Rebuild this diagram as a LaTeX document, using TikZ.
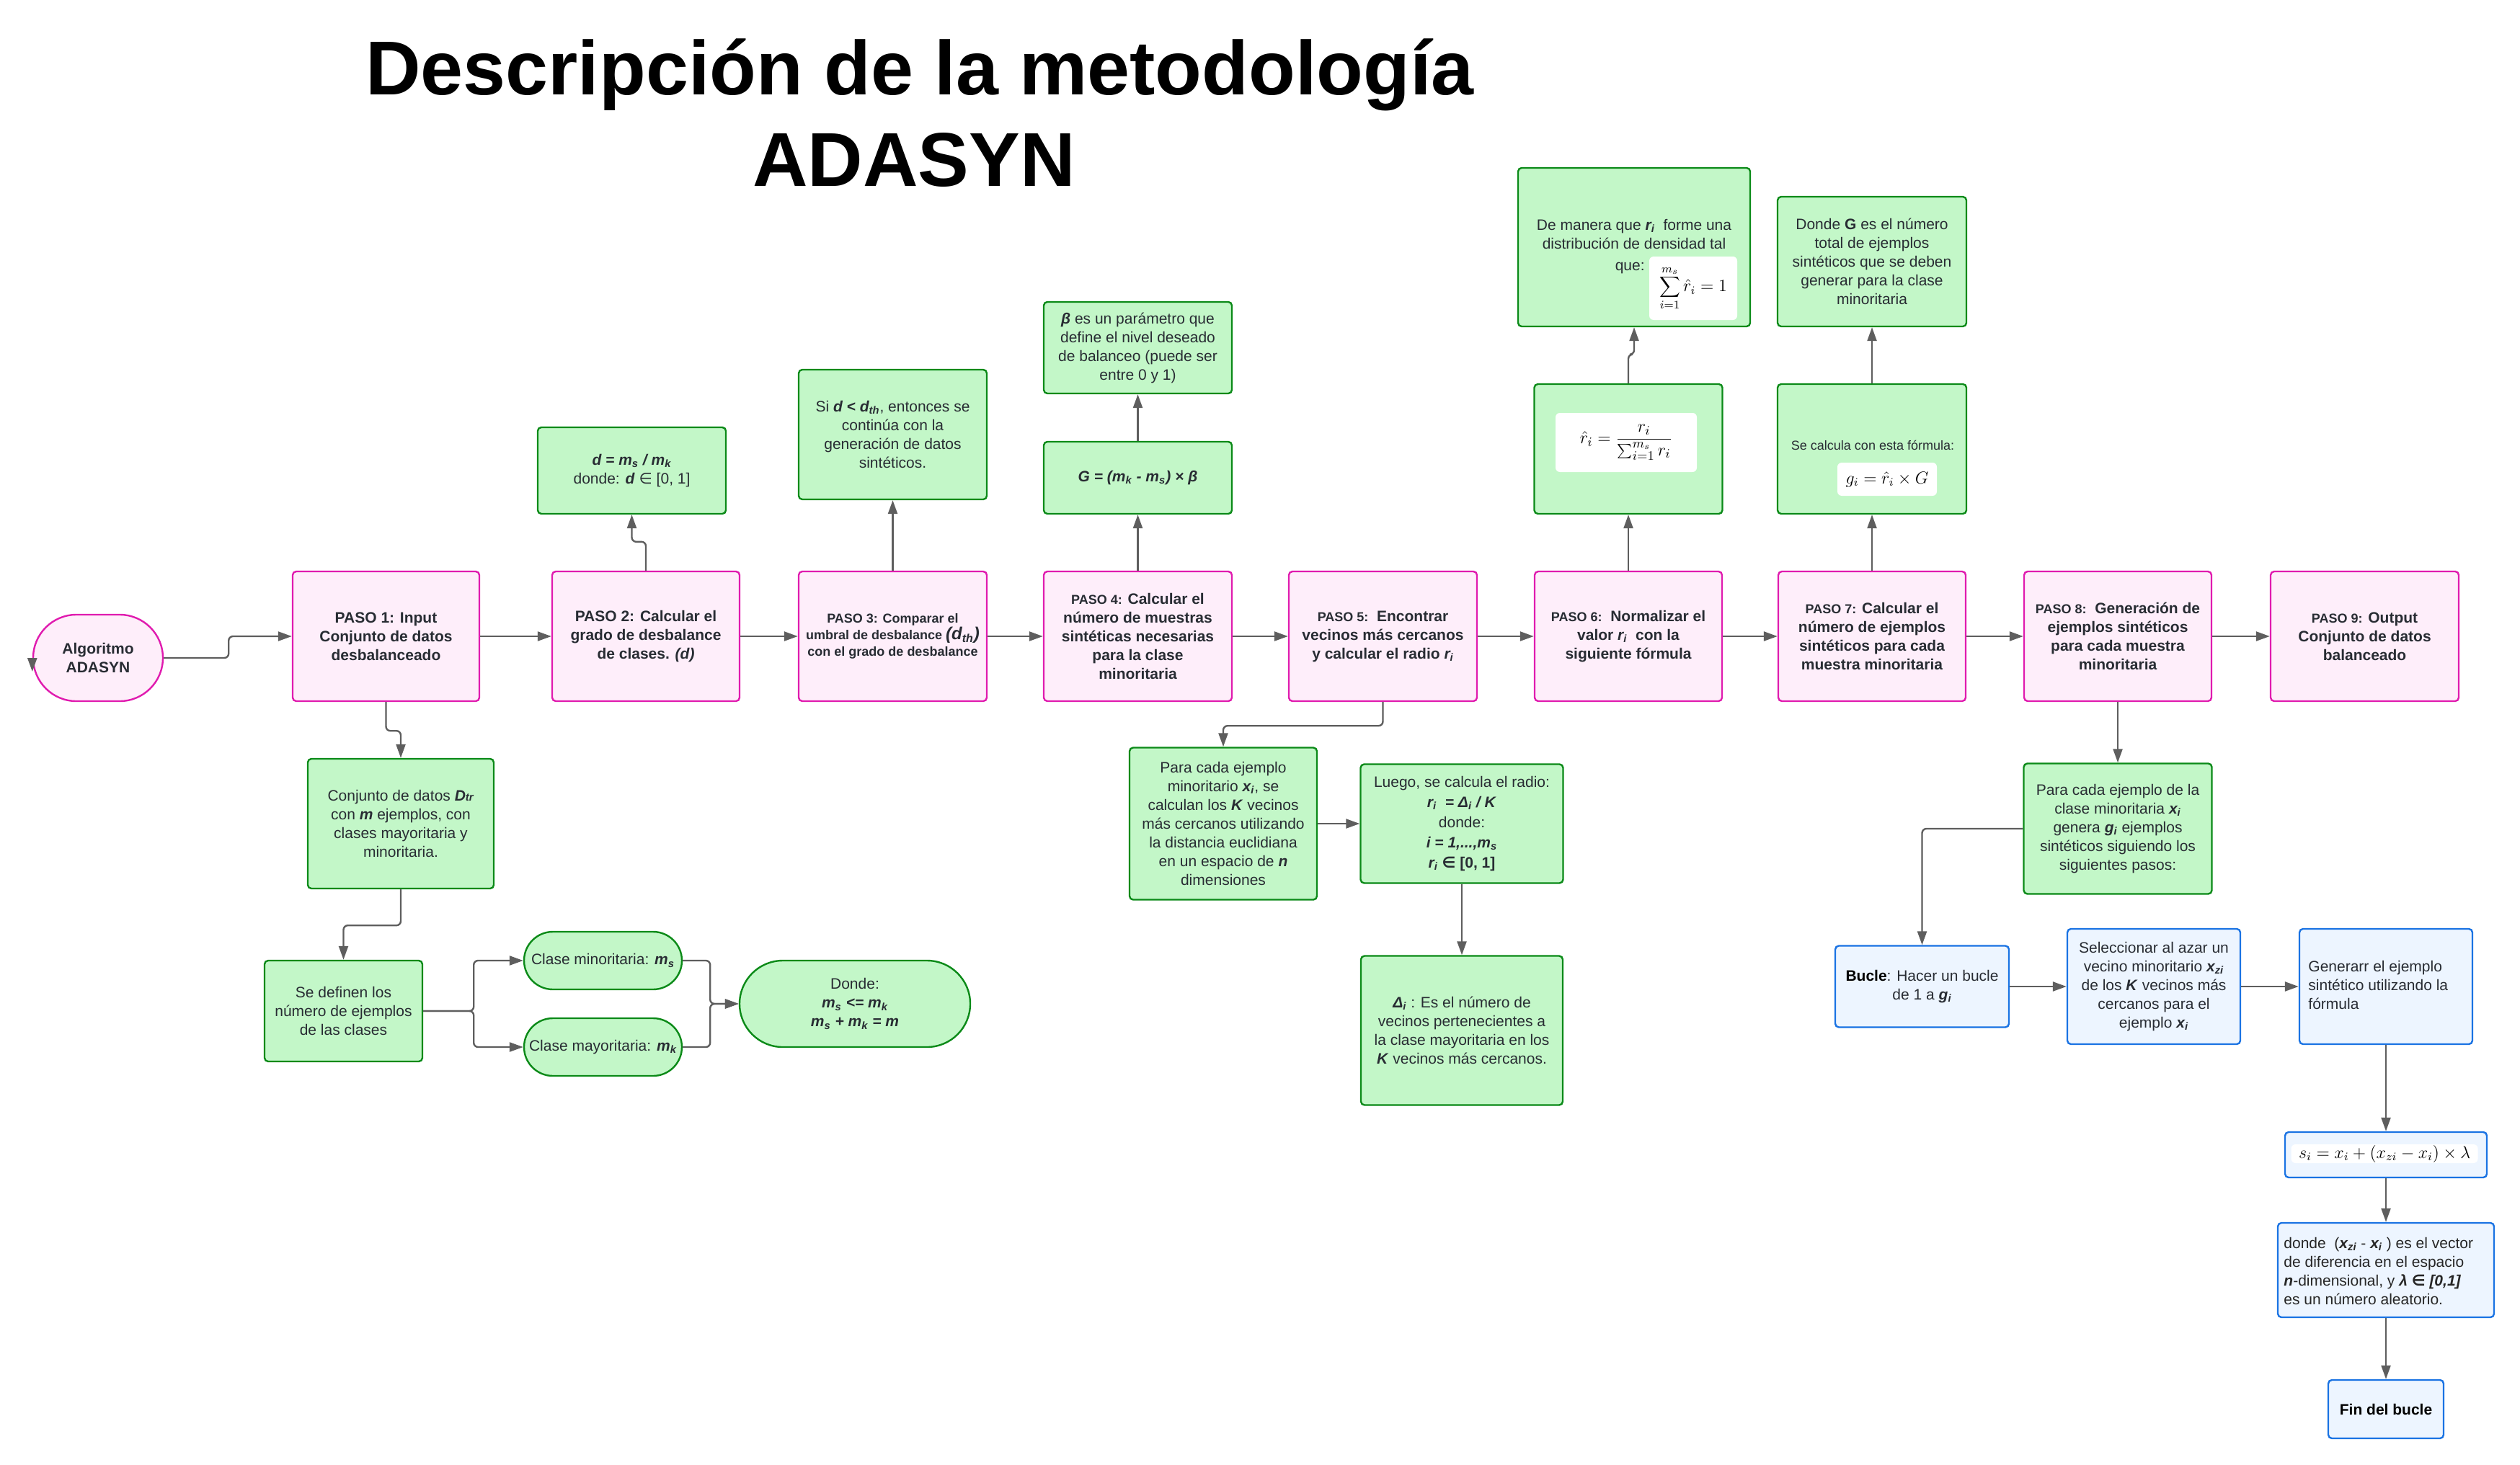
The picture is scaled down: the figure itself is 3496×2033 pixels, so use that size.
\documentclass[tikz,border=0pt]{standalone}
\usepackage{fontspec}
\setmainfont{Liberation Sans}
\newfontfamily\djv{DejaVu Sans}
\usetikzlibrary{arrows.meta}
\definecolor{pinkB}{HTML}{E01BAF}
\definecolor{pinkF}{HTML}{FEEEFA}
\definecolor{greenB}{HTML}{0B8A18}
\definecolor{greenF}{HTML}{C3F7C8}
\definecolor{blueB}{HTML}{1A73E3}
\definecolor{blueF}{HTML}{EDF5FF}
\definecolor{lineG}{HTML}{5E5E5E}
\definecolor{txtG}{HTML}{282C33}
\newcommand{\bi}[1]{\textbf{\textit{#1}}}
\newcommand{\elem}{{\djv ∈}}
\newcommand{\pso}[1]{{\fontsize{9}{13}\selectfont #1}}
\tikzset{
  wh/.style 2 args={minimum width=#1*0.5pt,minimum height=#2*0.5pt},
  box/.style={draw, line width=1.2pt, rounded corners=2.5pt, align=center, inner sep=1pt, text=txtG, font=\fontsize{10.5}{13}\selectfont},
  pbox/.style={box, draw=pinkB, fill=pinkF, font=\fontsize{10.5}{13}\selectfont\bfseries},
  gbox/.style={box, draw=greenB, fill=greenF},
  bbox/.style={box, draw=blueB, fill=blueF},
  txt/.style={inner sep=0pt, text=txtG, font=\fontsize{10.5}{13}\selectfont},
  inset/.style={fill=white, rounded corners=3pt, inner sep=0pt},
  arr/.style={draw=lineG, line width=1.2pt, rounded corners=3pt, -{Triangle[length=9.5pt,width=6.5pt]}},
}
\begin{document}
\begin{tikzpicture}[x=0.5pt,y=-0.5pt]
\useasboundingbox (0,0) rectangle (3496,2033);
\fill[white] (0,0) rectangle (3496,2033);

% title
\node[inner sep=0pt, anchor=base, font=\fontsize{53}{63}\selectfont\bfseries] (t1) at (1276,132) {Descripción de la metodología};
\node[inner sep=0pt, anchor=base, font=\fontsize{53}{63}\selectfont\bfseries] (t2) at (1268,259) {ADASYN};

% main row
\node[pbox, wh={180}{120}, rounded corners=30pt] (alg) at (136,913) {Algoritmo\\ADASYN};
\node[pbox, wh={259}{180}] (p1) at (535.5,883) {PASO 1: Input\\Conjunto de datos\\desbalanceado};
\node[pbox, wh={260}{180}] (p2) at (896,883) {PASO 2: Calcular el\\grado de desbalance\\de clases. \textit{(d)}};
\node[pbox, wh={261}{180}, font=\fontsize{9}{11.5}\selectfont\bfseries] (p3) at (1238.5,883) {PASO 3: Comparar el\\umbral de desbalance {\fontsize{12}{12}\selectfont\itshape (d\textsubscript{th})}\\con el grado de desbalance};
\node[pbox, wh={261}{180}] (p4) at (1578.5,883) {\pso{PASO 4:} Calcular el\\número de muestras\\sintéticas necesarias\\para la clase\\minoritaria};
\node[pbox, wh={261}{180}] (p5) at (1918.5,883) {\pso{PASO 5:}\ \ Encontrar\\vecinos más cercanos\\y calcular el radio \textit{r\textsubscript{i}}};
\node[pbox, wh={260}{180}] (p6) at (2259,883) {\pso{PASO 6:}\ \ Normalizar el\\valor \textit{r\textsubscript{i}}\ \ con la\\siguiente fórmula};
\node[pbox, wh={260}{180}] (p7) at (2597,883) {\pso{PASO 7:} Calcular el\\número de ejemplos\\sintéticos para cada\\muestra minoritaria};
\node[pbox, wh={260}{180}] (p8) at (2938,883) {\pso{PASO 8:}\ \ Generación de\\ejemplos sintéticos\\para cada muestra\\minoritaria};
\node[pbox, wh={261}{180}] (p9) at (3280.5,883) {\pso{PASO 9:} Output\\Conjunto de datos\\balanceado};

% upper boxes
\node[gbox, wh={261}{120}] (dbox) at (876.5,653) {\bi{d = m\textsubscript{s} / m\textsubscript{k}}\\donde: \bi{d} \elem{} [0, 1]};
\node[gbox, wh={261}{180}] (sibox) at (1238.5,603) {Si \bi{d < d\textsubscript{th}}, entonces se\\continúa con la\\generación de datos\\sintéticos.};
\node[gbox, wh={261}{100}] (gb) at (1578.5,663) {\bi{G = (m\textsubscript{k} - m\textsubscript{s}) × β}};
\node[gbox, wh={261}{127}] (beta) at (1578.5,482.5) {\bi{β} es un parámetro que\\define el nivel deseado\\de balanceo (puede ser\\entre 0 y 1)};
\node[gbox, wh={261}{180}] (rhat) at (2259,623) {};
\node[inset, wh={196}{82}] (rhatF) at (2256,614) {\fontsize{13}{15}\selectfont$\displaystyle\hat{r}_i=\frac{r_i}{\sum_{i=1}^{m_s} r_i}$};
\node[gbox, wh={322}{220}] (dm) at (2267,343) {};
\node[txt, align=center] (dmT) at (2267,325) {De manera que \bi{r\textsubscript{i}}~ forme una\\distribución de densidad tal};
\node[inset, wh={122}{88}] (dmF) at (2349,400) {\fontsize{12}{14}\selectfont$\displaystyle\sum_{i=1}^{m_s}\hat{r}_i=1$};
\node[txt, anchor=base east] (que) at (2282,375) {que:};
\node[gbox, wh={262}{180}] (secalc) at (2597,623) {};
\node[txt, font=\fontsize{9}{11}\selectfont] (secT) at (2598,618) {Se calcula con esta fórmula:};
\node[inset, wh={138}{46}] (secF) at (2618,665) {\fontsize{12}{14}\selectfont$g_i=\hat{r}_i\times G$};
\node[gbox, wh={262}{180}] (dG) at (2597,363) {Donde \textbf{G} es el número\\total de ejemplos\\sintéticos que se deben\\generar para la clase\\minoritaria};

% lower left
\node[gbox, wh={258}{180}] (conj) at (556,1143) {Conjunto de datos \bi{D{\fontsize{7.5}{8}\selectfont tr}}\\con \bi{m} ejemplos, con\\clases mayoritaria y\\minoritaria.};
\node[gbox, wh={219}{140}] (sedef) at (476.5,1403) {Se definen los\\número de ejemplos\\de las clases};
\node[gbox, wh={219}{80}, rounded corners=20pt] (cmin) at (836.5,1333) {Clase minoritaria: \bi{m\textsubscript{s}}};
\node[gbox, wh={219}{80}, rounded corners=20pt] (cmay) at (836.5,1453) {Clase mayoritaria: \bi{m\textsubscript{k}}};
\node[gbox, wh={320}{120}, rounded corners=30pt] (donde) at (1186,1393) {Donde:\\\bi{m\textsubscript{s} <= m\textsubscript{k}}\\\bi{m\textsubscript{s} + m\textsubscript{k} = m}};

% lower middle
\node[gbox, wh={260}{211}] (pc) at (1697,1143) {Para cada ejemplo\\minoritario \bi{x\textsubscript{i}}, se\\calculan los \bi{K} vecinos\\más cercanos utilizando\\la distancia euclidiana\\en un espacio de \bi{n}\\dimensiones};
\node[gbox, wh={281}{165}, font=\fontsize{10.5}{14}\selectfont] (luego) at (2028,1143) {Luego, se calcula el radio:\\\bi{r\textsubscript{i}~ = Δ\textsubscript{i} / K}\\donde:\\\bi{i = 1,...,m\textsubscript{s}}\\\textbf{\textit{r\textsubscript{i}} \elem{} [0, 1]}};
\node[gbox, wh={280}{207}] (delta) at (2028,1430) {\bi{Δ\textsubscript{i}} : Es el número de\\vecinos pertenecientes a\\la clase mayoritaria en los\\\bi{K} vecinos más cercanos.};

% lower right
\node[gbox, wh={261}{181}] (pc2) at (2938,1150) {Para cada ejemplo de la\\clase minoritaria \bi{x\textsubscript{i}}\\genera \bi{g\textsubscript{i}} ejemplos\\sintéticos siguiendo los\\siguientes pasos:};
\node[bbox, wh={241}{113}] (bucle) at (2666.5,1369) {{\color{black}\textbf{Bucle}}: Hacer un bucle\\de 1 a \bi{g\textsubscript{i}}};
\node[bbox, wh={240}{160}] (sel) at (2988,1369) {Seleccionar al azar un\\vecino minoritario \bi{x\textsubscript{zi}}\\de los \bi{K} vecinos más\\cercanos para el\\ejemplo \bi{x\textsubscript{i}}};
\node[bbox, wh={240}{160}] (gen) at (3310,1369) {};
\node[txt, anchor=west, align=left] (genT) at (3202,1367) {Generarr el ejemplo\\sintético utilizando la\\fórmula};
\node[bbox, wh={280}{63}] (sform) at (3310,1602.5) {};
\node[inset, wh={259}{26}] (sformF) at (3308,1601) {\fontsize{12}{13}\selectfont$s_i=x_i+(x_{zi}-x_i)\times\lambda$};
\node[bbox, wh={300}{131}] (dvec) at (3310,1762.5) {};
\node[txt, anchor=west, align=left, text=black!85] (dvecT) at (3168,1764) {donde~ (\bi{x\textsubscript{zi}} - \bi{x\textsubscript{i}} ) es el vector\\de diferencia en el espacio\\\bi{n}-dimensional, y \bi{λ \elem{} [0,1]}\\es un número aleatorio.};
\node[bbox, wh={160}{81}, text=black] (fin) at (3310,1955.5) {\textbf{Fin del bucle}};

% connectors
\draw[arr] (alg.east) -- ++(90,0) |- (p1.west);
\draw[arr] (alg.west) -- ++(0,19);
\foreach \a/\b in {p1/p2,p2/p3,p3/p4,p4/p5,p5/p6,p6/p7,p7/p8,p8/p9}
  \draw[arr] (\a.east) -- (\b.west);
\draw[arr] (p1.south) -- ++(0,40) -| (conj.north);
\draw[arr] (conj.south) -- ++(0,50) -| (sedef.north);
\draw[arr] (sedef.east) -- ++(70,0) |- (cmin.west);
\draw[arr] (sedef.east) -- ++(70,0) |- (cmay.west);
\draw[arr] (cmin.east) -- ++(38,0) |- (donde.west);
\draw[arr] (cmay.east) -- ++(38,0) |- (donde.west);
\draw[arr] (p2.north) -- ++(0,-40) -| (dbox.south);
\draw[arr] (p3.north) -- (sibox.south);
\draw[arr] (p4.north) -- (gb.south);
\draw[arr] (gb.north) -- (beta.south);
\draw[arr] (p5.south) -- ++(0,33) -| (pc.north);
\draw[arr] (pc.east) -- (luego.west);
\draw[arr] (luego.south) -- (delta.north);
\draw[arr] (p6.north) -- (rhat.south);
\draw[arr] (rhat.north) -- ++(0,-40) -| (dm.south);
\draw[arr] (p7.north) -- (secalc.south);
\draw[arr] (secalc.north) -- (dG.south);
\draw[arr] (p8.south) -- (pc2.north);
\draw[arr] (pc2.west) -| (bucle.north);
\draw[arr] (bucle.east) -- (sel.west);
\draw[arr] (sel.east) -- (gen.west);
\draw[arr] (gen.south) -- (sform.north);
\draw[arr] (sform.south) -- (dvec.north);
\draw[arr] (dvec.south) -- (fin.north);
\end{tikzpicture}
\end{document}
